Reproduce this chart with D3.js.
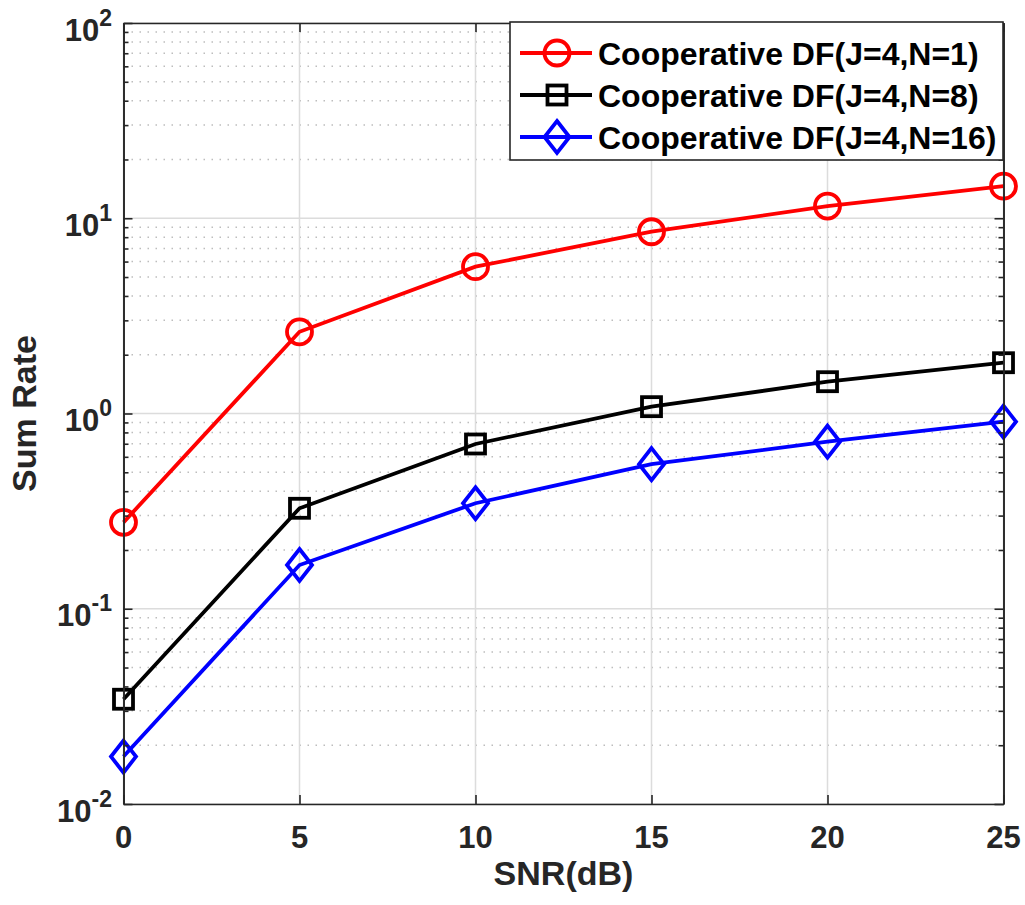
<!DOCTYPE html>
<html>
<head>
<meta charset="utf-8">
<script src="https://cdn.jsdelivr.net/npm/d3@7"></script>
<style>
  html, body { margin: 0; padding: 0; background: #fff; }
  svg text { font-family: "Liberation Sans", Arial, Helvetica, sans-serif; font-weight: bold; }
</style>
</head>
<body>
<div id="chart"></div>
<script>
// data
const snr = [0, 5, 10, 15, 20, 25];
const rateN1 = [0.277, 2.62, 5.65, 8.53, 11.55, 14.6];
const rateN8 = [0.0344, 0.327, 0.698, 1.084, 1.455, 1.82];
const rateN16 = [0.0175, 0.1675, 0.347, 0.55, 0.717, 0.908];
const seriesNames = ['Cooperative DF(J=4,N=1)', 'Cooperative DF(J=4,N=8)', 'Cooperative DF(J=4,N=16)'];
const yTickExponents = [-2, -1, 0, 1, 2];

class SumRateChart {
    constructor() {
        this.W = 1025;
        this.H = 905;
        this.margin = {top: 23, right: 21.5, bottom: 101, left: 123.5};
        this.width = this.W - this.margin.left - this.margin.right;
        this.height = this.H - this.margin.top - this.margin.bottom;
        this.axisColor = '#262626';
        this.lineWidth = 3.8;
        this.series = [
            {name: seriesNames[0], values: rateN1, color: '#ff0000', marker: 'circle'},
            {name: seriesNames[1], values: rateN8, color: '#000000', marker: 'square'},
            {name: seriesNames[2], values: rateN16, color: '#0000ff', marker: 'diamond'}
        ];
    }

    create() {
        const svg = d3.select('#chart').append('svg')
            .attr('width', this.W)
            .attr('height', this.H);
        const g = svg.append('g')
            .attr('transform', `translate(${this.margin.left},${this.margin.top})`);

        this.x = d3.scaleLinear().domain([0, 25]).range([0, this.width]);
        this.y = d3.scaleLog().domain([1e-2, 1e2]).range([this.height, 0]);

        this.drawGrid(g);
        this.drawSeries(g);
        this.drawAxes(g);
        this.drawLabels(g);
        this.drawLegend(g);
    }

    minorValues() {
        const out = [];
        yTickExponents.slice(0, -1).forEach(e => {
            for (let k = 2; k <= 9; k++) out.push(k * Math.pow(10, e));
        });
        return out;
    }

    drawGrid(g) {
        // dotted minor grid
        g.append('g').selectAll('line')
            .data(this.minorValues())
            .join('line')
            .attr('x1', 0).attr('x2', this.width)
            .attr('y1', d => this.y(d)).attr('y2', d => this.y(d))
            .style('stroke', '#bdbdbd')
            .style('stroke-width', 1.5)
            .style('stroke-dasharray', '1.5,6.5');

        // solid major grid
        g.append('g').selectAll('line')
            .data(yTickExponents.map(e => Math.pow(10, e)))
            .join('line')
            .attr('x1', 0).attr('x2', this.width)
            .attr('y1', d => this.y(d)).attr('y2', d => this.y(d))
            .style('stroke', '#dcdcdc')
            .style('stroke-width', 1.5);

        g.append('g').selectAll('line')
            .data(snr)
            .join('line')
            .attr('x1', d => this.x(d)).attr('x2', d => this.x(d))
            .attr('y1', 0).attr('y2', this.height)
            .style('stroke', '#dcdcdc')
            .style('stroke-width', 1.5);
    }

    drawMarker(sel, type, color) {
        if (type === 'circle') {
            sel.append('circle').attr('r', 12.5);
        } else if (type === 'square') {
            sel.append('rect').attr('x', -9.5).attr('y', -9.5).attr('width', 19).attr('height', 19);
        } else {
            sel.append('path').attr('d', 'M0,-16L12.5,0L0,16L-12.5,0Z');
        }
        sel.selectAll('*')
            .style('fill', 'none')
            .style('stroke', color)
            .style('stroke-width', this.lineWidth);
    }

    drawSeries(g) {
        const line = d3.line()
            .x((d, i) => this.x(snr[i]))
            .y(d => this.y(d));

        this.series.forEach(s => {
            g.append('path')
                .datum(s.values)
                .attr('d', line)
                .style('fill', 'none')
                .style('stroke', s.color)
                .style('stroke-width', this.lineWidth);

            s.values.forEach((v, i) => {
                const m = g.append('g')
                    .attr('transform', `translate(${this.x(snr[i])},${this.y(v)})`);
                this.drawMarker(m, s.marker, s.color);
            });
        });
    }

    styleAxis(sel) {
        sel.selectAll('path.domain').style('stroke', this.axisColor).style('stroke-width', 1.6);
        sel.selectAll('line').style('stroke', this.axisColor).style('stroke-width', 1.6);
        sel.selectAll('text').remove();
    }

    drawAxes(g) {
        const majors = yTickExponents.map(e => Math.pow(10, e));

        // ticks point inward on all four sides
        g.append('g')
            .attr('transform', `translate(0,${this.height})`)
            .call(d3.axisBottom(this.x).tickValues(snr).tickSize(-9).tickSizeOuter(0))
            .call(s => this.styleAxis(s));
        g.append('g')
            .call(d3.axisTop(this.x).tickValues(snr).tickSize(-9).tickSizeOuter(0))
            .call(s => this.styleAxis(s));
        g.append('g')
            .call(d3.axisLeft(this.y).tickValues(majors).tickSize(-9).tickSizeOuter(0))
            .call(s => this.styleAxis(s));
        g.append('g')
            .call(d3.axisLeft(this.y).tickValues(this.minorValues()).tickSize(-5).tickSizeOuter(0))
            .call(s => this.styleAxis(s));
        g.append('g')
            .attr('transform', `translate(${this.width},0)`)
            .call(d3.axisRight(this.y).tickValues(majors).tickSize(-9).tickSizeOuter(0))
            .call(s => this.styleAxis(s));
        g.append('g')
            .attr('transform', `translate(${this.width},0)`)
            .call(d3.axisRight(this.y).tickValues(this.minorValues()).tickSize(-5).tickSizeOuter(0))
            .call(s => this.styleAxis(s));

        // x tick labels
        g.append('g').selectAll('text')
            .data(snr)
            .join('text')
            .attr('x', d => this.x(d))
            .attr('y', this.height + 44)
            .attr('text-anchor', 'middle')
            .style('font-size', '31px')
            .style('fill', this.axisColor)
            .text(d => d);

        // y tick labels as 10^n
        const yl = g.append('g').selectAll('text')
            .data(yTickExponents)
            .join('text')
            .attr('x', -11.5)
            .attr('y', d => this.y(Math.pow(10, d)) + 17.5)
            .attr('text-anchor', 'end')
            .style('fill', this.axisColor);
        yl.append('tspan').style('font-size', '31px').text('10');
        yl.append('tspan').attr('dy', -15).style('font-size', '23px').text(d => d);
    }

    drawLabels(g) {
        g.append('text')
            .attr('x', this.width / 2)
            .attr('y', this.height + 81)
            .attr('text-anchor', 'middle')
            .style('font-size', '34px')
            .style('fill', this.axisColor)
            .text('SNR(dB)');

        g.append('text')
            .attr('transform', 'rotate(-90)')
            .attr('x', -this.height / 2)
            .attr('y', -this.margin.left + 36)
            .attr('text-anchor', 'middle')
            .style('font-size', '34px')
            .style('fill', this.axisColor)
            .text('Sum Rate');
    }

    drawLegend(g) {
        const lx = 510 - this.margin.left;
        const ly = 22 - this.margin.top;
        const legend = g.append('g').attr('transform', `translate(${lx},${ly})`);

        legend.append('rect')
            .attr('width', 493)
            .attr('height', 138)
            .style('fill', '#fff')
            .style('stroke', this.axisColor)
            .style('stroke-width', 1.6);

        const rowY = [31, 73, 115];
        this.series.forEach((s, i) => {
            const row = legend.append('g').attr('transform', `translate(0,${rowY[i]})`);
            row.append('line')
                .attr('x1', 10).attr('x2', 82)
                .style('stroke', s.color)
                .style('stroke-width', this.lineWidth);
            const m = row.append('g').attr('transform', 'translate(47,0)');
            this.drawMarker(m, s.marker, s.color);
            row.append('text')
                .attr('x', 88)
                .attr('dy', '0.36em')
                .style('font-size', '32px')
                .style('fill', '#000')
                .text(s.name);
        });
    }
}

new SumRateChart().create();
</script>
</body>
</html>
